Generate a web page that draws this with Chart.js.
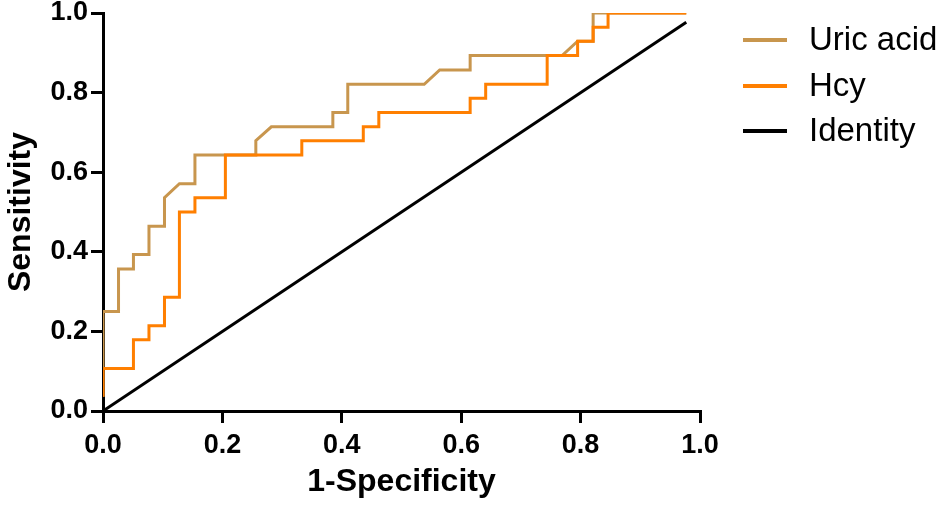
<!DOCTYPE html>
<html>
<head>
<meta charset="utf-8">
<script src="https://cdn.jsdelivr.net/npm/chart.js@4.4.1/dist/chart.umd.min.js"></script>
<style>
  html, body { margin: 0; padding: 0; background: #ffffff; }
  #wrap { width: 945px; height: 507px; }
</style>
</head>
<body>
<div id="wrap"><canvas id="c" width="945" height="507"></canvas></div>
<script>
// ---- data ----
const seriesNames = ['Uric acid', 'Hcy', 'Identity'];
const seriesColors = ['#C8964E', '#FF7F00', '#000000'];

const uricX = [0, 0, 0.026, 0.026, 0.051, 0.051, 0.077, 0.077, 0.103, 0.103, 0.128, 0.154, 0.154, 0.256, 0.256, 0.282, 0.385, 0.385, 0.410, 0.410, 0.538, 0.564, 0.615, 0.615, 0.769, 0.795, 0.821, 0.821, 0.977];
const uricY = [0.036, 0.250, 0.250, 0.357, 0.357, 0.393, 0.393, 0.464, 0.464, 0.536, 0.571, 0.571, 0.643, 0.643, 0.679, 0.714, 0.714, 0.750, 0.750, 0.821, 0.821, 0.857, 0.857, 0.893, 0.893, 0.929, 0.929, 1.000, 1.000];

const hcyX = [0, 0, 0.051, 0.051, 0.077, 0.077, 0.103, 0.103, 0.128, 0.128, 0.154, 0.154, 0.205, 0.205, 0.333, 0.333, 0.436, 0.436, 0.462, 0.462, 0.615, 0.615, 0.641, 0.641, 0.744, 0.744, 0.795, 0.795, 0.821, 0.821, 0.846, 0.846, 0.977];
const hcyY = [0.036, 0.107, 0.107, 0.179, 0.179, 0.214, 0.214, 0.286, 0.286, 0.500, 0.500, 0.536, 0.536, 0.643, 0.643, 0.679, 0.679, 0.714, 0.714, 0.750, 0.750, 0.786, 0.786, 0.821, 0.821, 0.893, 0.893, 0.929, 0.929, 0.964, 0.964, 1.000, 1.000];

const identityX = [0, 0.977];
const identityY = [0, 0.977];

const xTicks = [0, 0.2, 0.4, 0.6, 0.8, 1.0];
const yTicks = [0, 0.2, 0.4, 0.6, 0.8, 1.0];
const xTitle = '1-Specificity';
const yTitle = 'Sensitivity';

// ---- build ----
const toPts = (xs, ys) => xs.map((x, i) => ({ x: x, y: ys[i] }));
const seriesData = [toPts(uricX, uricY), toPts(hcyX, hcyY), toPts(identityX, identityY)];
const drawOrder = [1, 0, 2];

const FONT = '"Liberation Sans", Arial, Helvetica, sans-serif';

const legendPlugin = {
  id: 'sideLegend',
  afterDraw(chart) {
    const ctx = chart.ctx;
    const lineY = [40, 86, 131];
    const baseY = [50, 96, 141];
    ctx.save();
    chart.data.datasets.forEach((ds, i) => {
      ctx.strokeStyle = ds.borderColor;
      ctx.lineWidth = 4;
      ctx.lineCap = 'butt';
      ctx.beginPath();
      ctx.moveTo(743, lineY[i]);
      ctx.lineTo(787, lineY[i]);
      ctx.stroke();
      ctx.fillStyle = '#000000';
      ctx.font = '33px ' + FONT;
      ctx.textAlign = 'left';
      ctx.textBaseline = 'alphabetic';
      ctx.fillText(ds.label, 809, baseY[i]);
    });
    ctx.restore();
  }
};

new Chart(document.getElementById('c'), {
  type: 'scatter',
  data: {
    datasets: seriesNames.map((name, i) => ({
      label: name,
      data: seriesData[i],
      showLine: true,
      borderColor: seriesColors[i],
      backgroundColor: seriesColors[i],
      borderWidth: 3,
      borderJoinStyle: 'miter',
      borderCapStyle: 'butt',
      pointRadius: 0,
      pointHoverRadius: 0,
      tension: 0,
      order: drawOrder[i]
    }))
  },
  options: {
    responsive: false,
    animation: false,
    devicePixelRatio: 1,
    layout: { padding: { left: 0, top: 13, right: 245, bottom: 0 } },
    plugins: {
      legend: { display: false },
      tooltip: { enabled: false }
    },
    scales: {
      x: {
        type: 'linear',
        min: 0,
        max: 1,
        afterBuildTicks: (s) => { s.ticks = xTicks.map(v => ({ value: v })); },
        afterFit: (s) => { s.height = 96; s.paddingLeft = 0; s.paddingRight = 0; },
        ticks: {
          color: '#000000',
          padding: 6,
          maxRotation: 0,
          font: { family: FONT, size: 27, weight: 'bold' },
          callback: (v) => Number(v).toFixed(1)
        },
        grid: {
          display: true,
          drawOnChartArea: false,
          drawTicks: true,
          tickLength: 12,
          tickWidth: 3,
          tickColor: '#000000',
          lineWidth: 3,
          color: '#000000'
        },
        border: { display: true, color: '#000000', width: 3 },
        title: {
          display: true,
          text: xTitle,
          color: '#000000',
          font: { family: FONT, size: 32, weight: 'bold' },
          padding: { top: 0, bottom: 6 }
        }
      },
      y: {
        type: 'linear',
        min: 0,
        max: 1,
        afterBuildTicks: (s) => { s.ticks = yTicks.map(v => ({ value: v })); },
        afterFit: (s) => { s.width = 103; s.paddingTop = 0; s.paddingBottom = 0; },
        ticks: {
          color: '#000000',
          padding: 3,
          font: { family: FONT, size: 27, weight: 'bold' },
          callback: (v) => Number(v).toFixed(1)
        },
        grid: {
          display: true,
          drawOnChartArea: false,
          drawTicks: true,
          tickLength: 12,
          tickWidth: 3,
          tickColor: '#000000',
          lineWidth: 3,
          color: '#000000'
        },
        border: { display: true, color: '#000000', width: 3 },
        title: {
          display: true,
          text: yTitle,
          color: '#000000',
          font: { family: FONT, size: 32, weight: 'bold' },
          padding: { top: 2, bottom: 0 }
        }
      }
    }
  },
  plugins: [legendPlugin]
});
</script>
</body>
</html>
